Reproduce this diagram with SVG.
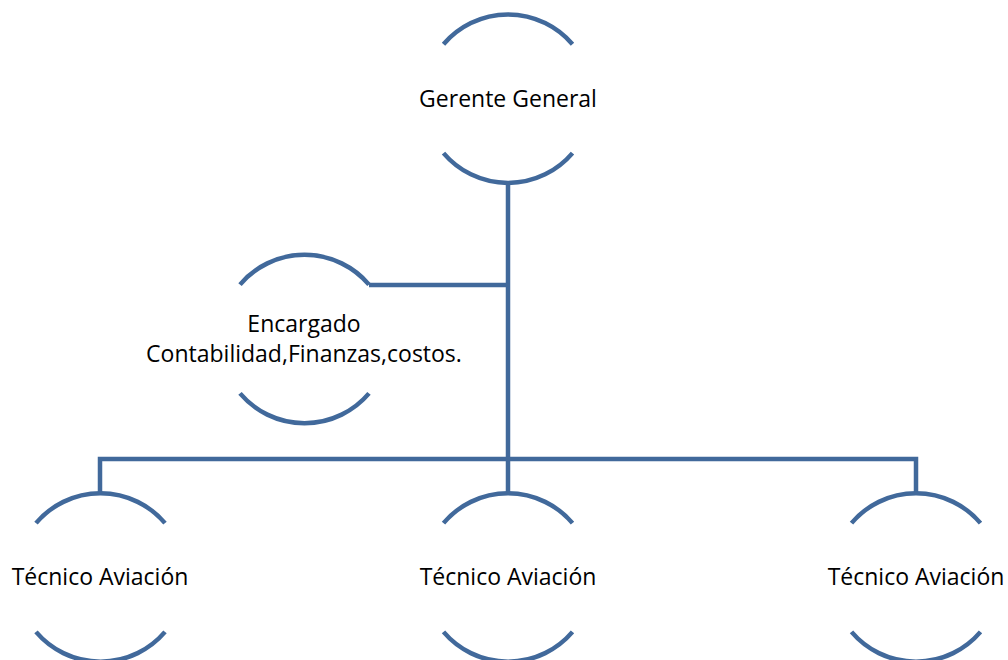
<svg xmlns="http://www.w3.org/2000/svg" width="1008" height="660" viewBox="0 0 1008 660">
<style>
.ln{fill:none;stroke:#41699B;stroke-width:4.5}
.t{font-family:"Open Sans","Noto Sans","Liberation Sans",sans-serif;font-size:23px;fill:#000;text-anchor:middle}
</style>
<rect width="1008" height="660" fill="#fff"/>
<g id="connectors" class="ln">
<polyline points="508,183 508,493"/>
<polyline points="369,285 508,285"/>
<polyline points="100,493 100,459 916,459 916,493"/>
</g>
<g id="gerente">
<path class="ln" d="M443.5,44.3 A84.7,84.7 0 0 1 572.5,44.3"/>
<path class="ln" d="M443.5,153.1 A84.7,84.7 0 0 0 572.5,153.1"/>
<text class="t" x="508" y="107">Gerente General</text>
</g>
<g id="encargado">
<path class="ln" d="M240,284.6 A84.7,84.7 0 0 1 369,284.6"/>
<path class="ln" d="M240,393.4 A84.7,84.7 0 0 0 369,393.4"/>
<text class="t" x="304" y="332">Encargado</text>
<text class="t" x="304" y="362">Contabilidad,Finanzas,costos.</text>
</g>
<g id="tecnico1">
<path class="ln" d="M36,523.1 A84.7,84.7 0 0 1 165,523.1"/>
<path class="ln" d="M36,631.9 A84.7,84.7 0 0 0 165,631.9"/>
<text class="t" x="100" y="585">Técnico Aviación</text>
</g>
<g id="tecnico2">
<path class="ln" d="M443.5,523.1 A84.7,84.7 0 0 1 572.5,523.1"/>
<path class="ln" d="M443.5,631.9 A84.7,84.7 0 0 0 572.5,631.9"/>
<text class="t" x="508" y="585">Técnico Aviación</text>
</g>
<g id="tecnico3">
<path class="ln" d="M851.5,523.1 A84.7,84.7 0 0 1 980.5,523.1"/>
<path class="ln" d="M851.5,631.9 A84.7,84.7 0 0 0 980.5,631.9"/>
<text class="t" x="916" y="585">Técnico Aviación</text>
</g>
</svg>
